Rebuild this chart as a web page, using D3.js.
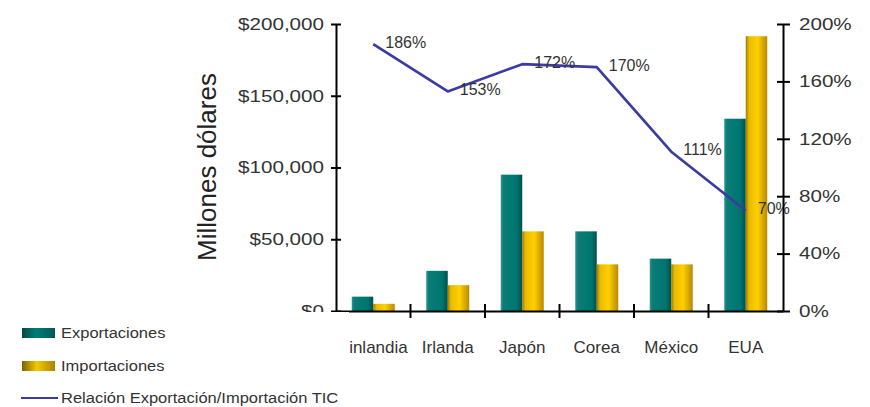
<!DOCTYPE html>
<html>
<head>
<meta charset="utf-8">
<script src="https://cdn.jsdelivr.net/npm/d3@7"></script>
<style>
  body { margin: 0; background: #fff; }
  svg { display: block; font-family: "Liberation Sans", Arial, sans-serif; }
</style>
</head>
<body>
<div id="chart"></div>
<script>
var svgWidth = 870;
var svgHeight = 407;

// data
var paises = ["Finlandia", "Irlanda", "Japón", "Corea", "México", "EUA"];
var exportaciones = [10000, 28000, 95000, 55500, 36500, 134000];
var importaciones = [5000, 18000, 55500, 32500, 32500, 191500];
var relacion = [1.86, 1.53, 1.72, 1.70, 1.11, 0.70];
var relacionLabels = ["186%", "153%", "172%", "170%", "111%", "70%"];
var leftTicks = [0, 50000, 100000, 150000, 200000];
var rightTicks = [0, 0.4, 0.8, 1.2, 1.6, 2.0];
var series = ["Exportaciones", "Importaciones"];

var plot = { left: 336, right: 783, top: 24, bottom: 311 };

var svg = d3.select("#chart")
  .append("svg")
  .attr("width", svgWidth)
  .attr("height", svgHeight);

// gradients for the bars
var defs = svg.append("defs");
function grad(id, stops) {
  var g = defs.append("linearGradient").attr("id", id)
    .attr("x1", "0%").attr("x2", "100%").attr("y1", "0%").attr("y2", "0%");
  stops.forEach(function(s) {
    g.append("stop").attr("offset", s[0]).attr("stop-color", s[1]);
  });
}
grad("gTeal", [["0%", "#2f9590"], ["12%", "#0a7d77"], ["75%", "#00746e"], ["100%", "#00504c"]]);
grad("gGold", [["0%", "#9a7a00"], ["15%", "#e8bb00"], ["55%", "#ffd000"], ["100%", "#b88a00"]]);
grad("lTeal", [["0%", "#004a46"], ["45%", "#007d77"], ["100%", "#005853"]]);
grad("lGold", [["0%", "#7a6400"], ["45%", "#f5c800"], ["100%", "#a88200"]]);

// scales
var x0 = d3.scaleBand().domain(paises).range([plot.left, plot.right]).padding(0);
var groupW = 43;
var x1 = d3.scaleBand().domain(series).range([0, groupW]).padding(0);

var yLeft = d3.scaleLinear().domain([0, 200000]).range([plot.bottom, plot.top]);
var yRight = d3.scaleLinear().domain([0, 2]).range([plot.bottom, plot.top]);

var table = paises.map(function(p, i) {
  return { pais: p, vals: [exportaciones[i], importaciones[i]], rel: relacion[i], lab: relacionLabels[i] };
});

// bars
var groups = svg.selectAll(".grp").data(table).enter()
  .append("g")
  .attr("transform", d => `translate(${x0(d.pais) + (x0.bandwidth() - groupW) / 2},0)`);

groups.selectAll("rect")
  .data(d => d.vals.map((v, j) => ({ key: series[j], v: v })))
  .enter().append("rect")
  .attr("x", d => x1(d.key))
  .attr("width", x1.bandwidth())
  .attr("y", d => yLeft(d.v))
  .attr("height", d => plot.bottom - yLeft(d.v))
  .attr("fill", d => d.key == "Exportaciones" ? "url(#gTeal)" : "url(#gGold)");

// ratio line
var line = d3.line()
  .x(d => x0(d.pais) + x0.bandwidth() / 2)
  .y(d => yRight(d.rel));

svg.append("path")
  .datum(table)
  .attr("d", line)
  .attr("fill", "none")
  .attr("stroke", "#3b3ba3")
  .attr("stroke-width", 2.7)
  .attr("stroke-linejoin", "round");

svg.selectAll(".rlab").data(table).enter()
  .append("text")
  .attr("x", d => x0(d.pais) + x0.bandwidth() / 2 + 12)
  .attr("y", d => yRight(d.rel) - 2)
  .attr("dy", "0.35em")
  .attr("font-size", "16px")
  .attr("fill", "#333")
  .text(d => d.lab);

// axes
var leftAxis = d3.axisLeft(yLeft)
  .tickValues(leftTicks)
  .tickSizeInner(5).tickSizeOuter(0)
  .tickFormat(d => "$" + d3.format(",")(d));

var gl = svg.append("g")
  .attr("transform", `translate(${plot.left},0)`)
  .call(leftAxis);

var rightAxis = d3.axisRight(yRight)
  .tickValues(rightTicks)
  .tickSizeInner(7).tickSizeOuter(0)
  .tickFormat(d3.format(".0%"));

var gr = svg.append("g")
  .attr("transform", `translate(${plot.right},0)`)
  .call(rightAxis);

var bottomAxis = d3.axisBottom(x0).tickSize(0).tickSizeOuter(0);
var gb = svg.append("g")
  .attr("transform", `translate(0,${plot.bottom})`)
  .call(bottomAxis);

// category boundary ticks
var bounds = paises.slice(1).map(p => x0(p));
gb.selectAll(".bt").data(bounds).enter()
  .append("line")
  .attr("x1", d => d).attr("x2", d => d)
  .attr("y1", -7).attr("y2", 7)
  .attr("stroke", "#000").attr("stroke-width", 2);

[gl, gr, gb].forEach(function(g) {
  g.select(".domain").attr("stroke", "#000").attr("stroke-width", 2);
  g.selectAll(".tick line").attr("stroke", "#000").attr("stroke-width", 2);
  g.attr("font-family", null);
});

// ticks cross the axis lines
gl.selectAll(".tick line").attr("x1", 5);
gr.selectAll(".tick line").attr("x1", -6);

gl.selectAll(".tick text")
  .attr("x", 0)
  .attr("font-size", "16.5px")
  .attr("fill", "#333")
  .attr("transform", "translate(-12,0) scale(1.25,1)");

gr.selectAll(".tick text")
  .attr("x", 0)
  .attr("font-size", "16.5px")
  .attr("fill", "#333")
  .attr("transform", "translate(16,0) scale(1.25,1)");

gb.selectAll(".tick text")
  .attr("y", 0)
  .attr("dy", "0.35em")
  .attr("transform", "translate(0,36)")
  .attr("font-size", "17px")
  .attr("fill", "#333");

// axis title
svg.append("text")
  .attr("transform", "translate(216,167) rotate(-90)")
  .attr("text-anchor", "middle")
  .attr("font-size", "26px")
  .attr("fill", "#222")
  .text("Millones dólares");

// legend with white background
var legend = svg.append("g");
legend.append("rect")
  .attr("x", 0).attr("y", 312)
  .attr("width", 349).attr("height", svgHeight - 312)
  .attr("fill", "#fff");

var legendItems = [
  { name: "Exportaciones", kind: "bar", fill: "url(#lTeal)", y: 333 },
  { name: "Importaciones", kind: "bar", fill: "url(#lGold)", y: 366 },
  { name: "Relación Exportación/Importación TIC", kind: "line", y: 398 }
];

legendItems.forEach(function(it) {
  if (it.kind == "bar") {
    legend.append("rect")
      .attr("x", 22).attr("y", it.y - 5)
      .attr("width", 33).attr("height", 10)
      .attr("fill", it.fill);
  } else {
    legend.append("line")
      .attr("x1", 21).attr("x2", 58)
      .attr("y1", it.y).attr("y2", it.y)
      .attr("stroke", "#3b3ba3").attr("stroke-width", 2);
  }
  legend.append("text")
    .attr("transform", `translate(61,${it.y}) scale(1.1,1)`)
    .attr("dy", "0.35em")
    .attr("font-size", "15px")
    .attr("fill", "#333")
    .text(it.name);
});
</script>
</body>
</html>
